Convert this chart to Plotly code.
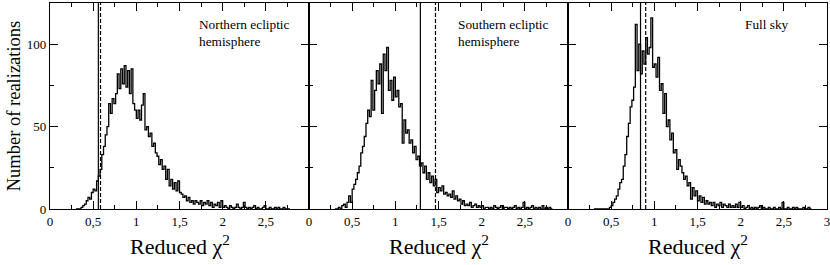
import plotly.graph_objects as go

BIN_START = 0.30
BIN_WIDTH = 0.02

north_counts = [0, 0, 0, 1, 2, 3, 5, 7, 6, 10, 12, 11, 17, 20, 24, 33, 38, 45, 50, 64,
                58, 67, 64, 70, 82, 73, 85, 76, 87, 74, 84, 70, 85, 64, 60, 55, 60, 54, 63, 70,
                48, 50, 44, 46, 38, 40, 34, 32, 27, 30, 24, 26, 18, 24, 14, 18, 12, 16, 11, 17,
                10, 9, 7, 8, 5, 7, 4, 5, 3, 5, 4, 3, 5, 2, 4, 3, 5, 2, 4, 1,
                3, 2, 4, 1, 5, 1, 2, 1, 0, 2, 1, 0, 1, 3, 1, 0, 1, 4, 1, 0,
                1, 0, 1, 2, 0, 1, 0, 0, 1, 2, 0, 0, 1, 0, 0, 1, 0, 1, 0, 0,
                1, 0, 0, 0]

south_counts = [0, 0, 1, 0, 2, 3, 1, 4, 8, 4, 12, 15, 18, 22, 26, 34, 38, 44, 52, 60,
                56, 78, 60, 72, 84, 76, 88, 58, 94, 84, 98, 72, 78, 66, 80, 68, 72, 62, 64, 40,
                54, 46, 48, 40, 42, 34, 38, 30, 32, 26, 28, 22, 26, 18, 22, 16, 20, 14, 18, 10,
                13, 11, 14, 9, 10, 8, 9, 7, 11, 6, 8, 5, 6, 3, 5, 2, 3, 2, 4, 1,
                2, 3, 1, 2, 1, 2, 0, 1, 1, 0, 1, 0, 2, 1, 0, 1, 2, 0, 1, 1,
                0, 1, 0, 1, 2, 0, 1, 0, 1, 4, 0, 1, 0, 1, 2, 0, 1, 0, 1, 0,
                2, 0, 1, 0, 1, 0]

full_counts = [0, 0, 0, 0, 0, 0, 0, 0, 0, 1, 2, 4, 6, 8, 12, 16, 18, 26, 33, 44,
               52, 62, 66, 74, 112, 84, 100, 82, 96, 88, 104, 94, 98, 116, 86, 88, 80, 92, 72, 76,
               58, 70, 50, 54, 42, 46, 34, 36, 24, 30, 26, 22, 18, 20, 14, 16, 6, 13, 8, 11,
               5, 8, 4, 7, 3, 5, 3, 4, 2, 4, 1, 3, 2, 4, 1, 3, 2, 1, 3, 1,
               2, 1, 3, 1, 4, 1, 2, 0, 1, 2, 0, 1, 0, 1, 0, 1, 2, 0, 1, 0,
               0, 1, 0, 0, 1, 0, 0, 1, 0, 4, 0, 0, 1, 0, 0, 1, 0, 1, 0, 0,
               0, 1, 0, 0, 1, 0]

panel_labels = ["Northern ecliptic<br>hemisphere", "Southern ecliptic<br>hemisphere", "Full sky"]
label_x = [1.70, 1.70, 2.03]
solid_lines = [0.56, 1.29, 0.84]
dashed_lines = [0.585, 1.465, 0.90]

xtick_vals_12 = [0, 0.5, 1, 1.5, 2, 2.5]
xtick_text_12 = ["0", "0,5", "1", "1,5", "2", "2,5"]
xtick_vals_3 = [0, 0.5, 1, 1.5, 2, 2.5, 3]
xtick_text_3 = ["0", "0,5", "1", "1,5", "2", "2,5", "3"]
ytick_vals = [0, 50, 100]
ytick_text = ["0", "50", "100"]

FONT = "Liberation Serif, Times New Roman, serif"

fig = go.Figure()
series = [north_counts, south_counts, full_counts]
for i, counts in enumerate(series):
    xs = [BIN_START + BIN_WIDTH * k for k in range(len(counts) + 1)]
    ys = list(counts) + [counts[-1]]
    axn = "" if i == 0 else str(i + 1)
    fig.add_trace(go.Scatter(x=xs, y=ys, mode="lines", line=dict(color="black", width=1.3, shape="hv"),
                             xaxis="x" + axn, yaxis="y" + axn, showlegend=False, hoverinfo="skip"))
    fig.add_shape(type="line", x0=solid_lines[i], x1=solid_lines[i], y0=0, y1=1,
                  xref="x" + axn, yref="y" + axn + " domain", line=dict(color="black", width=1.2))
    fig.add_shape(type="line", x0=dashed_lines[i], x1=dashed_lines[i], y0=0, y1=1,
                  xref="x" + axn, yref="y" + axn + " domain", line=dict(color="black", width=1.2, dash="4px,2px"))
    fig.add_annotation(x=label_x[i], y=118, xref="x" + axn, yref="y" + axn, text=panel_labels[i],
                       showarrow=False, xanchor="left", yanchor="top", align="left",
                       font=dict(family=FONT, size=13.3, color="black"))
    fig.add_annotation(x=1.5, y=-0.175, xref="x" + axn, yref="paper", text="Reduced χ<sup>2</sup>",
                       showarrow=False, xanchor="center", yanchor="middle",
                       font=dict(family=FONT, size=22, color="black"))

fig.add_annotation(x=-0.046, y=0.5, xref="paper", yref="paper", text="Number of realizations",
                   textangle=-90, showarrow=False, xanchor="center", yanchor="middle",
                   font=dict(family=FONT, size=18.5, color="black"))

common_x = dict(range=[0, 3], showline=True, linecolor="black", linewidth=1.2, mirror="allticks",
                ticks="inside", ticklen=8, tickwidth=1, tickcolor="black", showgrid=False, zeroline=False,
                automargin=False, ticklabeloverflow="allow", tickfont=dict(family=FONT, size=13, color="black"),
                minor=dict(dtick=0.25, tick0=0, ticks="inside", ticklen=4, tickwidth=1, tickcolor="black"))
common_y = dict(range=[0, 125], showline=True, linecolor="black", linewidth=1.2, mirror="allticks",
                ticks="inside", ticklen=8, tickwidth=1, tickcolor="black", showgrid=False, zeroline=False,
                automargin=False, tickfont=dict(family=FONT, size=13, color="black"),
                minor=dict(dtick=25, tick0=0, ticks="inside", ticklen=4, tickwidth=1, tickcolor="black"))

fig.update_layout(
    width=830, height=265, margin=dict(l=50, r=3, t=3, b=56),
    paper_bgcolor="white", plot_bgcolor="white",
    xaxis=dict(common_x, domain=[0, 1/3], anchor="y", tickvals=xtick_vals_12, ticktext=xtick_text_12),
    xaxis2=dict(common_x, domain=[1/3, 2/3], anchor="y2", tickvals=xtick_vals_12, ticktext=xtick_text_12),
    xaxis3=dict(common_x, domain=[2/3, 1], anchor="y3", tickvals=xtick_vals_3, ticktext=xtick_text_3),
    yaxis=dict(common_y, anchor="x", tickvals=ytick_vals, ticktext=ytick_text),
    yaxis2=dict(common_y, anchor="x2", tickvals=ytick_vals, showticklabels=False),
    yaxis3=dict(common_y, anchor="x3", tickvals=ytick_vals, showticklabels=False),
)

fig.write_html("out.html", config={"displayModeBar": False},
               post_script="document.body.style.margin='0px';")
